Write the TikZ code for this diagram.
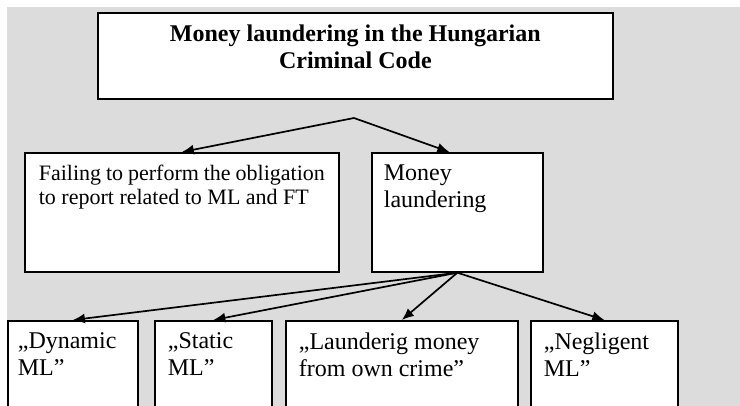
\documentclass[tikz,border=0pt]{standalone}
\usepackage{fontspec}
\setmainfont{Liberation Serif}
\usetikzlibrary{arrows.meta}
\definecolor{panel}{HTML}{DCDCDC}
\tikzset{
  box/.style={draw, line width=1.7pt, fill=white, anchor=north west,
    inner xsep=13pt, inner ysep=12pt, font=\fontsize{24}{26.5}\selectfont},
  arr/.style={line width=1.7pt, -{Latex[length=12pt,width=10pt]}},
}
\newcommand{\boxtext}[3]{\parbox[t][#2][t]{#1}{\raggedright #3}}

\begin{document}
\begin{tikzpicture}[x=1pt,y=-1pt]
\useasboundingbox (0,0) rectangle (740,406);
\clip (0,0) rectangle (740,406);
\fill[panel] (7,7) rectangle (740,406);

% upper level
\node[box] (title) at (97,12)
  {\boxtext{489pt}{62pt}{\centering\bfseries\fontsize{24}{27}\selectfont
   Money laundering in the Hungarian\\ Criminal Code}};
\node[box, inner xsep=14pt, font=\fontsize{22}{24.5}\selectfont] (fail) at (24,152)
  {\boxtext{286pt}{95pt}{Failing to perform the obligation\\ to report related to ML and FT}};
\node[box, inner xsep=12pt, font=\fontsize{24}{27}\selectfont] (ml) at (371,152)
  {\boxtext{147pt}{95pt}{Money\\ laundering}};

% lower level
\node[box, inner xsep=10pt] (dyn) at (7,320) {\boxtext{110pt}{110pt}{„Dynamic\\ ML”}};
\node[box] (stat) at (154,320) {\boxtext{91pt}{110pt}{„Static\\ ML”}};
\node[box] (own) at (285,320) {\boxtext{206pt}{110pt}{„Launderig money\\ from own crime”}};
\node[box] (negl) at (530,320) {\boxtext{121pt}{110pt}{„Negligent\\ ML”}};

% connectors
\coordinate (apex) at (354,118);
\draw[arr] (apex) -- (fail.north);
\draw[arr] (apex) -- ([xshift=-8pt]ml.north);
\foreach \n in {dyn,stat,own,negl}
  \draw[arr] (ml.south) -- (\n.north);
\end{tikzpicture}
\end{document}
